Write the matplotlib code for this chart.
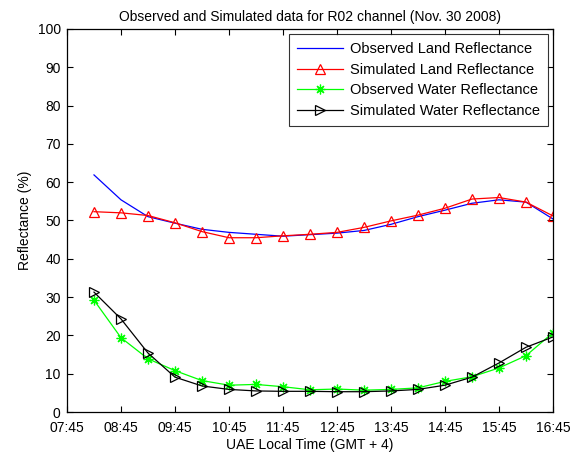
import matplotlib
matplotlib.use("Agg")
import matplotlib.pyplot as plt

plt.rcParams['font.family'] = ['Liberation Sans', 'DejaVu Sans']

times = ["08:15", "08:45", "09:15", "09:45", "10:15", "10:45", "11:15", "11:45", "12:15",
         "12:45", "13:15", "13:45", "14:15", "14:45", "15:15", "15:45", "16:15", "16:45"]
obs_land = [61.9, 55.4, 51.0, 49.3, 47.7, 46.9, 46.4, 45.9, 46.3,
            46.7, 47.4, 49.0, 51.0, 52.7, 54.5, 55.4, 54.8, 50.4]
sim_land = [52.3, 52.0, 51.3, 49.4, 47.1, 45.5, 45.5, 46.0, 46.4,
            46.9, 48.2, 49.9, 51.4, 53.2, 55.6, 56.0, 54.8, 51.2]
obs_water = [29.2, 19.4, 13.9, 10.8, 8.2, 7.0, 7.2, 6.6, 5.8,
             6.0, 5.7, 5.9, 6.3, 8.0, 9.2, 11.5, 14.7, 20.7]
sim_water = [31.3, 24.3, 15.4, 9.1, 6.8, 5.9, 5.5, 5.4, 5.4,
             5.3, 5.3, 5.5, 5.9, 7.0, 9.1, 12.8, 16.9, 19.6]
tick_labels = ["07:45", "08:45", "09:45", "10:45", "11:45", "12:45", "13:45", "14:45", "15:45", "16:45"]


def to_hours(s):
    h, m = s.split(":")
    return int(h) + int(m) / 60.0


x = [to_hours(t) for t in times]
xt = [to_hours(t) for t in tick_labels]

fig = plt.figure(figsize=(5.8, 4.53), dpi=100)
ax = fig.add_axes([0.1155, 0.0905, 0.8379, 0.8455])

ax.plot(x, obs_land, color='#0000ff', lw=0.9, label='Observed Land Reflectance')
ax.plot(x, sim_land, color='#ff0000', lw=0.9, marker='^', markersize=7.5,
        markerfacecolor='none', markeredgecolor='#ff0000', markeredgewidth=0.9,
        label='Simulated Land Reflectance')
ax.plot(x, obs_water, color='#00ff00', lw=0.9, marker=(8, 2, 0), markersize=7,
        markerfacecolor='none', markeredgecolor='#00ff00', markeredgewidth=0.9,
        label='Observed Water Reflectance')
ax.plot(x, sim_water, color='black', lw=0.9, marker='>', markersize=7.5,
        markerfacecolor='none', markeredgecolor='black', markeredgewidth=0.9,
        label='Simulated Water Reflectance')

ax.set_xlim(xt[0], xt[-1])
ax.set_ylim(0, 100)
ax.set_xticks(xt)
ax.set_xticklabels(tick_labels)
ax.set_yticks(range(0, 101, 10))
ax.tick_params(direction='in', top=True, right=True, labelsize=10, length=4, width=0.8)
ax.tick_params(axis='x', pad=6.5)
ax.tick_params(axis='y', pad=4.5)
for sp in ax.spines.values():
    sp.set_linewidth(0.9)

ax.set_title('Observed and Simulated data for R02 channel (Nov. 30 2008)', fontsize=10, pad=6)
ax.set_xlabel('UAE Local Time (GMT + 4)', fontsize=10, labelpad=2)
ax.set_ylabel('Reflectance (%)', fontsize=10)

leg = ax.legend(loc='upper right', fontsize=10.5, handlelength=3.2, frameon=True,
                fancybox=False, edgecolor='black', borderaxespad=0.35,
                labelspacing=0.45, borderpad=0.55, handletextpad=0.45)
leg.get_frame().set_linewidth(0.8)

fig.savefig('out.png', dpi=100)
